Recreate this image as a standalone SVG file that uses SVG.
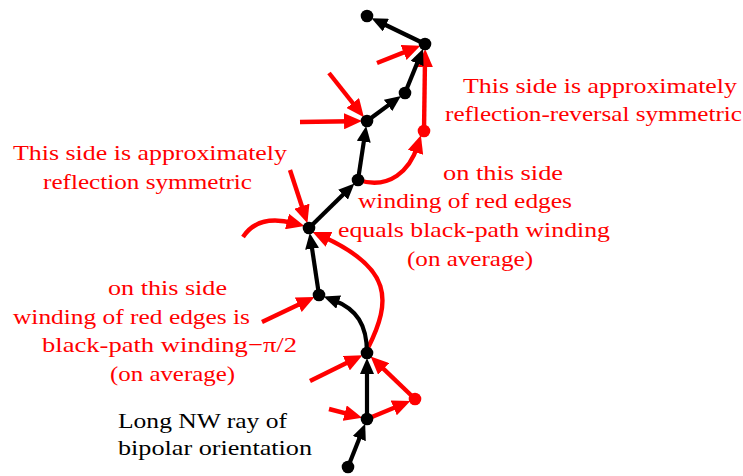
<svg xmlns="http://www.w3.org/2000/svg" width="743" height="476" viewBox="0 0 743 476">
<style>
.t{font-family:'Liberation Serif','Times New Roman','DejaVu Serif',serif;font-size:22px}
.r{fill:#ff0000}
.k{fill:#000}
.eb{fill:none;stroke:#000;stroke-width:4.2}
.er{fill:none;stroke:#ff0000;stroke-width:4.4}
.nb{fill:#000}
.nr{fill:#ff0000}
</style>
<defs>
<marker id="ab" markerUnits="userSpaceOnUse" viewBox="0 0 16 14" refX="6" refY="7" markerWidth="16" markerHeight="14" orient="auto"><path d="M0,0 L16,7 L0,14 z" fill="#000"/></marker>
<marker id="ar" markerUnits="userSpaceOnUse" viewBox="0 0 18 16" refX="7" refY="8" markerWidth="18" markerHeight="16" orient="auto"><path d="M0,0 L18,8 L0,16 z" fill="#ff0000"/></marker>
</defs>
<g id="connectors">
<g class="red">
<path class="er" marker-end="url(#ar)" d="M329,409 L351.5,414.9"/>
<path class="er" marker-end="url(#ar)" d="M367,419 L400.2,405.2"/>
<path class="er" marker-end="url(#ar)" d="M415,399 L378.6,364.1"/>
<path class="er" marker-end="url(#ar)" d="M310,381 L352.6,360.1"/>
<path class="er" marker-end="url(#ar)" d="M368,348 C392,300 392,268 322.6,236.5"/>
<path class="er" marker-end="url(#ar)" d="M262,322 L304.6,301.8"/>
<path class="er" marker-end="url(#ar)" d="M243,237 Q258,214 293.8,223.2"/>
<path class="er" marker-end="url(#ar)" d="M290,170 L304,212.8"/>
<path class="er" marker-end="url(#ar)" d="M358,180 C390,190 410,170 417.6,145.7"/>
<path class="er" marker-end="url(#ar)" d="M424,131 L425,60"/>
<path class="er" marker-end="url(#ar)" d="M300,122 L351,121.2"/>
<path class="er" marker-end="url(#ar)" d="M329,73 L357.1,108.5"/>
<path class="er" marker-end="url(#ar)" d="M377,63 L410.1,49.9"/>
</g>
<g class="black">
<path class="eb" marker-end="url(#ab)" d="M348,467 L361.5,433"/>
<path class="eb" marker-end="url(#ab)" d="M367,419 L367,368"/>
<path class="eb" marker-end="url(#ab)" d="M367,353 C367,325 357,309 333,300"/>
<path class="eb" marker-end="url(#ab)" d="M319,295 L311.2,242.8"/>
<path class="eb" marker-end="url(#ab)" d="M309,228 L347.3,190.5"/>
<path class="eb" marker-end="url(#ab)" d="M358,180 L364.7,135.8"/>
<path class="eb" marker-end="url(#ab)" d="M367,121 L392.9,101.9"/>
<path class="eb" marker-end="url(#ab)" d="M405,93 L419.3,57.9"/>
<path class="eb" marker-end="url(#ab)" d="M425,44 L380.5,22.5"/>
</g>
</g>
<g id="N0"><circle class="nb" cx="348" cy="467" r="6.3"/></g>
<g id="N1"><circle class="nb" cx="367" cy="419" r="6.3"/></g>
<g id="N2"><circle class="nb" cx="367" cy="353" r="6.3"/></g>
<g id="N3"><circle class="nb" cx="319" cy="295" r="6.3"/></g>
<g id="N4"><circle class="nb" cx="309" cy="228" r="6.3"/></g>
<g id="N5"><circle class="nb" cx="358" cy="180" r="6.3"/></g>
<g id="N6"><circle class="nb" cx="367" cy="121" r="6.3"/></g>
<g id="N7"><circle class="nb" cx="405" cy="93" r="6.3"/></g>
<g id="N8"><circle class="nb" cx="425" cy="44" r="6.3"/></g>
<g id="N9"><circle class="nb" cx="367" cy="16" r="6.3"/></g>
<g id="R1"><circle class="nr" cx="415" cy="399" r="6.3"/></g>
<g id="R2"><circle class="nr" cx="424" cy="131" r="6.3"/></g>
<g id="label-reversal" class="t r" font-family="Liberation Serif, serif">
<text x="463" y="93" textLength="274" lengthAdjust="spacingAndGlyphs">This side is approximately</text>
<text x="445" y="121" textLength="297" lengthAdjust="spacingAndGlyphs">reflection-reversal symmetric</text>
</g>
<g id="label-reflection" class="t r" font-family="Liberation Serif, serif">
<text x="13" y="160" textLength="274" lengthAdjust="spacingAndGlyphs">This side is approximately</text>
<text x="43" y="189" textLength="209" lengthAdjust="spacingAndGlyphs">reflection symmetric</text>
</g>
<g id="label-equals" class="t r" font-family="Liberation Serif, serif">
<text x="443" y="180" textLength="120" lengthAdjust="spacingAndGlyphs">on this side</text>
<text x="358" y="208" textLength="214" lengthAdjust="spacingAndGlyphs">winding of red edges</text>
<text x="338" y="237" textLength="272" lengthAdjust="spacingAndGlyphs">equals black-path winding</text>
<text x="407" y="266" textLength="126" lengthAdjust="spacingAndGlyphs">(on average)</text>
</g>
<g id="label-minus" class="t r" font-family="Liberation Serif, serif">
<text x="108" y="295" textLength="119" lengthAdjust="spacingAndGlyphs">on this side</text>
<text x="13" y="324" textLength="237" lengthAdjust="spacingAndGlyphs">winding of red edges is</text>
<text x="42" y="352" textLength="255" lengthAdjust="spacingAndGlyphs">black-path winding−π/2</text>
<text x="110" y="381" textLength="125" lengthAdjust="spacingAndGlyphs">(on average)</text>
</g>
<g id="label-ray" class="t k" font-family="Liberation Serif, serif">
<text x="118" y="428" textLength="169" lengthAdjust="spacingAndGlyphs">Long NW ray of</text>
<text x="118" y="455" textLength="194" lengthAdjust="spacingAndGlyphs">bipolar orientation</text>
</g>
</svg>
